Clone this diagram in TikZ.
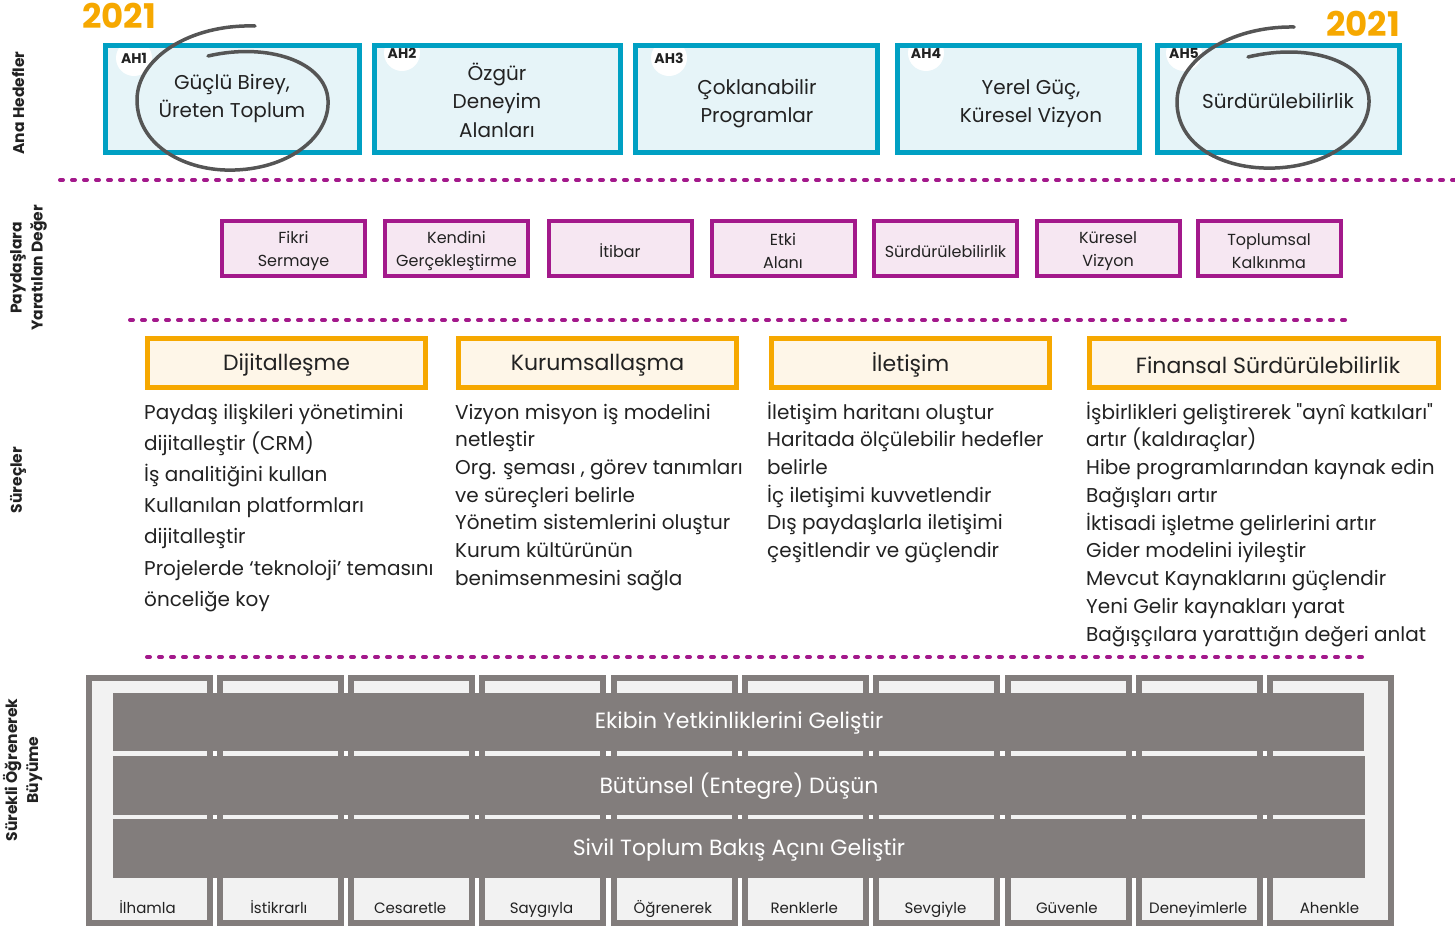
\documentclass[tikz,border=0pt]{standalone}
\usepackage{fontspec}
\setmainfont{Poppins}
\newfontfamily\qfont{Poppins}
\definecolor{cblue}{HTML}{00A0C3}
\definecolor{cblueL}{HTML}{E6F4F8}
\definecolor{cpurp}{HTML}{A3198B}
\definecolor{cpurpL}{HTML}{F6E7F2}
\definecolor{corg}{HTML}{F6A800}
\definecolor{corgL}{HTML}{FEF6E8}
\definecolor{cgray}{HTML}{827D7C}
\definecolor{cgrayL}{HTML}{F2F2F2}
\definecolor{ctext}{HTML}{222222}
\definecolor{cpen}{HTML}{555555}
\tikzset{
  goalfill/.style={fill=cblueL, inner sep=0pt, outer sep=0pt, minimum width=254pt, minimum height=107pt},
  goalborder/.style={draw=cblue, line width=5pt},
  ahcirc/.style={circle, fill=white, inner sep=0pt, minimum size=36pt, font=\bfseries\fontsize{14}{14}\selectfont, text=ctext},
  goaltext/.style={align=center, font=\fontsize{20}{28.5}\selectfont, text=ctext},
  valbox/.style={draw=cpurp, fill=cpurpL, line width=4pt, inner sep=0pt, outer sep=0pt, minimum width=143pt, minimum height=55pt, text=ctext},
  valtext/.style={align=center, font=\fontsize{16}{23}\selectfont, text=ctext},
  procbox/.style={draw=corg, fill=corgL, line width=5pt, inner sep=0pt, outer sep=0pt, minimum width=278pt, minimum height=49pt},
  proctext/.style={font=\fontsize{22}{22}\selectfont, text=ctext},
  bodyline/.style={anchor=base west, inner sep=0pt, font=\fontsize{20}{20}\selectfont, text=ctext},
  dotline/.style={draw=cpurp, line width=4pt, dash pattern=on 3pt off 9pt, line cap=round},
  pillar/.style={draw=cgray, fill=cgrayL, line width=6pt, inner sep=0pt, outer sep=0pt, minimum width=121pt, minimum height=245.5pt},
  pillartext/.style={anchor=base, inner sep=0pt, font=\fontsize{15}{15}\selectfont, text=ctext},
  bar/.style={fill=cgray, inner sep=0pt, outer sep=0pt, minimum width=1251pt},
  bartext/.style={text=white, font=\fontsize{22}{22}\selectfont},
  sidelabel/.style={rotate=90, align=center, font=\bfseries\fontsize{15.5}{21}\selectfont, text=ctext},
  yearlabel/.style={font=\bfseries\fontsize{34}{34}\selectfont, text=corg},
  pen/.style={draw=cpen, line width=3.5pt, line cap=round}
}
\begin{document}
\begin{tikzpicture}[x=1pt,y=-1pt]
\useasboundingbox (0,0) rectangle (1455,927);

% side labels
\node[sidelabel] (lab1) at (18,103) {Ana Hedefler};
\node[sidelabel] (lab2) at (28.5,268) {Paydaşlara\\Yaratılan Değer};
\node[sidelabel] (lab3) at (18,480) {Süreçler};
\node[sidelabel] (lab4) at (22.5,770) {Sürekli Öğrenerek\\Büyüme};

% years
\node[yearlabel] (y1) at (119,16) {2021};
\node[yearlabel] (y2) at (1363,24) {2021};

% goal boxes
\foreach \n/\cx/\w/\lx/\ly in {1/232.5/254/134/58, 2/497.5/246/402/53, 3/756.5/242/669/58, 4/1018.5/242/926/53, 5/1278.5/242/1184/53}{
  \node[goalfill, minimum width=\w pt] (ah\n) at (\cx,99) {};
  \node[ahcirc] (ah\n c) at (\lx,\ly) {AH\n};
  \draw[goalborder] (ah\n.south west) rectangle (ah\n.north east);
}
\node[goaltext] (ah1t) at (232,98.5) {Güçlü Birey,\\Üreten Toplum};
\node[goaltext] (ah2t) at (497,100) {Özgür\\Deneyim\\Alanları};
\node[goaltext] (ah3t) at (757,103.5) {Çoklanabilir\\Programlar};
\node[goaltext] (ah4t) at (1031,103.5) {Yerel Güç,\\Küresel Vizyon};
\node[goaltext] (ah5t) at (1278,101) {Sürdürülebilirlik};

% hand drawn circles
\draw[pen] (255,26) .. controls (190,24) and (137,58) .. (137,100)
  .. controls (137,145) and (185,172) .. (235,170)
  .. controls (292,168) and (330,135) .. (328,100)
  .. controls (326,62) and (268,42) .. (208,56);
\draw[pen] (1294,27) .. controls (1230,26) and (1177,60) .. (1177,102)
  .. controls (1177,145) and (1222,170) .. (1275,168)
  .. controls (1330,166) and (1370,135) .. (1369,100)
  .. controls (1368,62) and (1310,42) .. (1248,57);

% dotted separators
\coordinate (d1s) at (60,180); \coordinate (d1e) at (1455,180);
\coordinate (d2s) at (130,320); \coordinate (d2e) at (1352,320);
\coordinate (d3s) at (147,657); \coordinate (d3e) at (1370,657);
\draw[dotline] (d1s) -- (d1e);
\draw[dotline] (d2s) -- (d2e);
\draw[dotline] (d3s) -- (d3e);

% value boxes
\foreach \n/\cx/\t in {1/293.5/{Fikri\\Sermaye}, 2/456.5/{Kendini\\Gerçekleştirme}, 3/620/{İtibar}, 4/783/{Etki\\Alanı}, 5/945.5/{Sürdürülebilirlik}, 6/1108/{Küresel\\Vizyon}, 7/1269/{Toplumsal\\Kalkınma}}{
  \node[valbox] (v\n) at (\cx,248.5) {};
  \node[valtext] (v\n t) at (\cx,251) {\t};
}

% process boxes
\node[procbox] (o1) at (286.5,363) {};
\node[procbox] (o2) at (597.5,363) {};
\node[procbox] (o3) at (910.5,363) {};
\node[procbox, minimum width=349pt] (o4) at (1264,363) {};
\node[proctext] (o1t) at (286.5,365) {Dijitalleşme};
\node[proctext] (o2t) at (597.5,365) {Kurumsallaşma};
\node[proctext] (o3t) at (910.5,365) {İletişim};
\node[proctext] (o4t) at (1268,365) {Finansal Sürdürülebilirlik};

% process texts
\foreach \t [count=\i from 0] in {Paydaş ilişkileri yönetimini, dijitalleştir (CRM), İş analitiğini kullan, Kullanılan platformları, dijitalleştir, Projelerde ‘teknoloji’ temasını, önceliğe koy}{
  \node[bodyline] (c1l\i) at (144,419+31.2*\i) {\t};
}
\foreach \t [count=\i from 0] in {Vizyon misyon iş modelini, netleştir, {Org. şeması , görev tanımları}, ve süreçleri belirle, Yönetim sistemlerini oluştur, Kurum kültürünün, benimsenmesini sağla}{
  \node[bodyline] (c2l\i) at (455,419+27.7*\i) {\t};
}
\foreach \t [count=\i from 0] in {İletişim haritanı oluştur, Haritada ölçülebilir hedefler, belirle, İç iletişimi kuvvetlendir, Dış paydaşlarla iletişimi, çeşitlendir ve güçlendir}{
  \node[bodyline] (c3l\i) at (767,419+27.7*\i) {\t};
}
\foreach \t [count=\i from 0] in {İşbirlikleri geliştirerek {\qfont"}aynî katkıları{\qfont"}, artır (kaldıraçlar), Hibe programlarından kaynak edin, Bağışları artır, İktisadi işletme gelirlerini artır, Gider modelini iyileştir, Mevcut Kaynaklarını güçlendir, Yeni Gelir kaynakları yarat, Bağışçılara yarattığın değeri anlat}{
  \node[bodyline] (c4l\i) at (1086,419+27.75*\i) {\t};
}

% pillars
\foreach \t [count=\i from 0] in {İlhamla, İstikrarlı, Cesaretle, Saygıyla, Öğrenerek, Renklerle, Sevgiyle, Güvenle, Deneyimlerle, Ahenkle}{
  \node[pillar] (p\i) at (149+131.33*\i,800.25) {};
  \node[pillartext] (pt\i) at (147.5+131.33*\i,913) {\t};
}

% bars
\node[bar, minimum height=58pt] (b1) at (738.5,722) {};
\node[bar, minimum height=59pt, minimum width=1252pt] (b2) at (739,785.5) {};
\node[bar, minimum height=59pt, minimum width=1252pt] (b3) at (739,848.5) {};
\node[bartext] (b1t) at (739,723) {Ekibin Yetkinliklerini Geliştir};
\node[bartext] (b2t) at (739,786) {Bütünsel (Entegre) Düşün};
\node[bartext] (b3t) at (739,850) {Sivil Toplum Bakış Açını Geliştir};
\end{tikzpicture}
\end{document}
